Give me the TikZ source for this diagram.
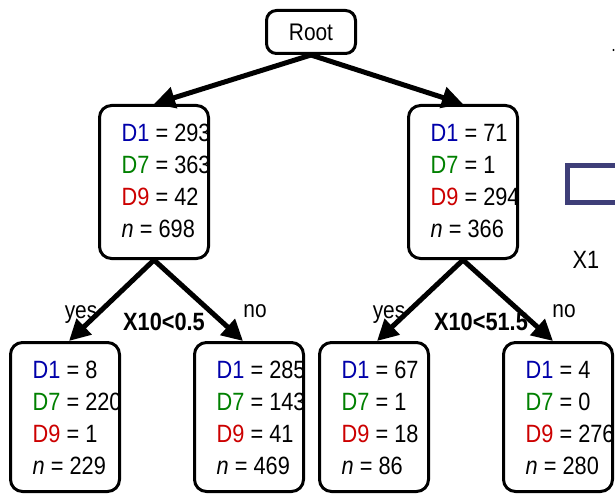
\documentclass[tikz,border=0pt]{standalone}
\usepackage{fontspec}
\setmainfont{Liberation Sans}[FakeStretch=0.87]
\usetikzlibrary{arrows.meta}

\definecolor{dblue}{RGB}{0,0,170}
\definecolor{dgreen}{RGB}{0,128,0}
\definecolor{dred}{RGB}{204,0,0}
\definecolor{keyblue}{RGB}{62,62,120}

\tikzset{
  treebox/.style={draw=black, fill=white, line width=3pt, rounded corners=12pt,
    minimum width=109pt, inner sep=0pt},
  rootbox/.style={draw=black, fill=white, line width=3pt, rounded corners=10pt,
    minimum width=89pt, minimum height=43pt, inner sep=0pt,
    font=\fontsize{24}{28}\selectfont},
  branch/.style={line width=5pt, -{Triangle[length=21pt,width=21pt]}},
  stat/.style={anchor=base west, inner sep=0pt, font=\fontsize{25}{28}\selectfont},
  edgelbl/.style={anchor=base, inner sep=0pt, font=\fontsize{24}{28}\selectfont},
  splitlbl/.style={anchor=base, inner sep=0pt, font=\bfseries\fontsize{25}{28}\selectfont},
}

% #1 name, #2 x, #3 y, #4 height, #5 D1, #6 D7, #7 D9, #8 n
\newcommand{\statbox}[8]{%
  \node[treebox, minimum height=#4] (#1) at (#2,#3) {};
  \begin{scope}
    \clip[rounded corners=10pt] ([xshift=1.5pt,yshift=1.5pt]#1.south west)
      rectangle ([xshift=-1.5pt,yshift=-1.5pt]#1.north east);
    \node[stat] (#1-d1) at ([xshift=23.5pt,yshift=-37.5pt]#1.north west)
      {\textcolor{dblue}{D1} = #5};
    \node[stat] (#1-d7) at ([xshift=23.5pt,yshift=-69.5pt]#1.north west)
      {\textcolor{dgreen}{D7} = #6};
    \node[stat] (#1-d9) at ([xshift=23.5pt,yshift=-101.5pt]#1.north west)
      {\textcolor{dred}{D9} = #7};
    \node[stat] (#1-n) at ([xshift=23.5pt,yshift=-133.5pt]#1.north west)
      {\textit{n} = #8};
  \end{scope}}

\begin{document}
\begin{tikzpicture}[x=1pt,y=-1pt]
  \fill[white] (0,0) rectangle (615,494);
  \useasboundingbox (0,0) rectangle (615,494);
  \clip (0,0) rectangle (615,494);

  % tree
  \node[rootbox] (root) at (311,32) {Root};
  \statbox{A}{154}{182}{153pt}{293}{363}{42}{698}
  \statbox{B}{463}{182}{153pt}{71}{1}{294}{366}
  \statbox{C}{65}{417}{149pt}{8}{220}{1}{229}
  \statbox{D}{249}{417}{149pt}{285}{143}{41}{469}
  \statbox{E}{374}{417}{149pt}{67}{1}{18}{86}
  \statbox{F}{558}{417}{149pt}{4}{0}{276}{280}

  % split labels
  \node[edgelbl] (yesA) at (81,318) {yes};
  \node[edgelbl] (noA) at (255,317) {no};
  \node[splitlbl] (splitA) at (164,330) {X10<0.5};
  \node[edgelbl] (yesB) at (389,318) {yes};
  \node[edgelbl] (noB) at (564,317) {no};
  \node[splitlbl] (splitB) at (481,330) {X10<51.5};

  % branches
  \draw[branch] (root.south) -- (A.north);
  \draw[branch] (root.south) -- (B.north);
  \draw[branch] (A.south) -- ([xshift=4pt]C.north);
  \draw[branch] (A.south) -- ([xshift=-6pt]D.north);
  \draw[branch] (B.south) -- ([xshift=3pt]E.north);
  \draw[branch] (B.south) -- ([xshift=-5pt]F.north);

  % key fragment at the right edge
  \fill (613.5,50) circle (1.2pt);
  \draw[keyblue, line width=5pt] (567.5,165.5) rectangle (640,202.5);
  \node[anchor=base, inner sep=0pt, font=\fontsize{25}{28}\selectfont] (keylbl) at (586,268) {X1};
\end{tikzpicture}
\end{document}
